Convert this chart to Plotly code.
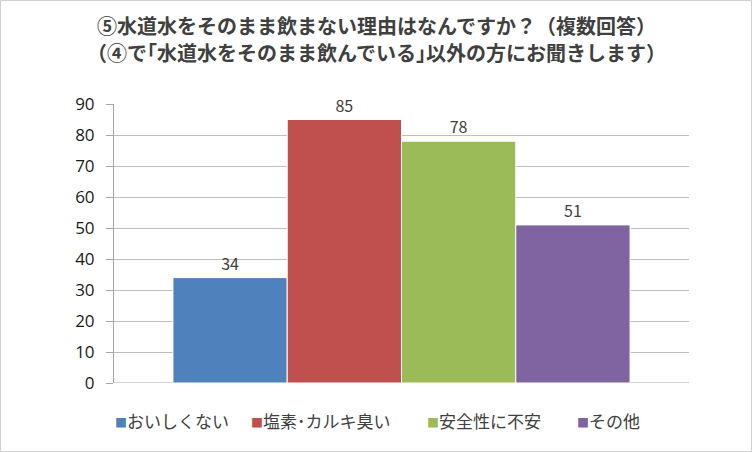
import plotly.graph_objects as go

# データ
categories = ["おいしくない", "塩素･カルキ臭い", "安全性に不安", "その他"]
values = [34, 85, 78, 51]
colors = ["#4F81BD", "#C0504D", "#9BBB59", "#8064A2"]
y_ticks = [0, 10, 20, 30, 40, 50, 60, 70, 80, 90]
title_lines = [
    "⑤水道水をそのまま飲まない理由はなんですか？（複数回答）",
    "（④で｢水道水をそのまま飲んでいる｣以外の方にお聞きします）",
]

FONT = "Noto Sans CJK JP"

W, H = 752, 452
ml, mr, mt, mb = 114, 63, 104, 69
pw, ph = W - ml - mr, H - mt - mb


def px_x(sx):
    return (sx - ml) / pw


def px_y(sy):
    return (H - mb - sy) / ph


fig = go.Figure()
for name, val, col in zip(categories, values, colors):
    fig.add_trace(go.Bar(
        x=[""], y=[val],
        name=name,
        marker=dict(color=col, line=dict(color="white", width=1)),
        text=[val], textposition="outside",
        textfont=dict(size=16, color="#404040", family=FONT),
        cliponaxis=False,
        showlegend=False,
    ))

fig.update_layout(
    width=W, height=H,
    margin=dict(l=ml, r=mr, t=mt, b=mb),
    paper_bgcolor="white", plot_bgcolor="white",
    barmode="group", bargap=0.205, bargroupgap=0,
    font=dict(family=FONT, color="#404040"),
    xaxis=dict(showticklabels=False, showgrid=False, zeroline=False,
               showline=False, ticks=""),
    yaxis=dict(range=[0, 90], tickvals=y_ticks, showgrid=True,
               gridcolor="#BFBFBF", gridwidth=1, zeroline=False,
               showline=True, linecolor="#A6A6A6", linewidth=1,
               ticks="outside", ticklen=7, tickcolor="#A6A6A6",
               ticklabelstandoff=8,
               tickfont=dict(size=17, color="#1a1a1a", family="Open Sans")),
)

# タイトル（2行）
for line, sy in zip(title_lines, [25, 52]):
    fig.add_annotation(
        xref="paper", yref="paper", x=px_x(W / 2), y=px_y(sy),
        xanchor="center", yanchor="middle", showarrow=False,
        text=f"<b>{line}</b>",
        font=dict(size=20, color="#404040", family=FONT),
    )

# 0の線
fig.add_shape(type="line", xref="paper", yref="y", x0=0, x1=1, y0=0, y1=0,
              line=dict(color="#A6A6A6", width=1), layer="below")

# 凡例（Excel風）
legend_x = [113, 249, 425, 575]
for name, col, sx in zip(categories, colors, legend_x):
    fig.add_annotation(
        xref="paper", yref="paper", x=px_x(sx), y=px_y(420),
        xanchor="left", yanchor="middle", showarrow=False,
        text=f"<span style='color:{col};font-size:12px'>■</span>{name}",
        font=dict(size=17, color="#404040", family=FONT),
    )

# 外枠
fig.add_shape(type="rect", xref="paper", yref="paper",
              x0=px_x(0.5), x1=px_x(751.5), y0=px_y(451.5), y1=px_y(0.5),
              line=dict(color="#D0D0D0", width=1))

fig.write_html("out.html", config={"displayModeBar": False},
               post_script="document.body.style.margin='0';")
